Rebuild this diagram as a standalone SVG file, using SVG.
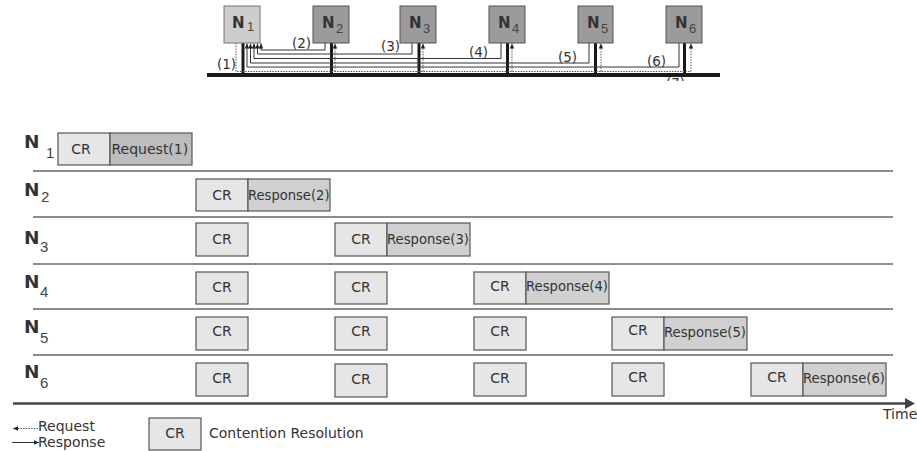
<svg xmlns="http://www.w3.org/2000/svg" width="917" height="451" viewBox="0 0 917 451">
<style>
.nt{font-family:"DejaVu Sans",sans-serif;font-weight:bold;fill:#333}
.sub{font-family:"Liberation Sans",Arial,sans-serif;fill:#444}
.t{font-family:"DejaVu Sans",sans-serif;font-size:14px;fill:#333}
.lbl{font-family:"DejaVu Sans",sans-serif;font-size:13.5px;fill:#333}
.cr{fill:#e6e6e6;stroke:#555;stroke-width:1.2}
.rs{fill:#d0d0d0;stroke:#555;stroke-width:1.2}
.rq{fill:#bdbdbd;stroke:#555;stroke-width:1.2}
.row{stroke:#666;stroke-width:1.5}
.stub{stroke:#1a1a1a;stroke-width:3}
.resp{fill:none;stroke:#333;stroke-width:1}
.req{fill:none;stroke:#555;stroke-width:1;stroke-dasharray:1.5 1.2}
</style>
<defs>
<marker id="ah" markerUnits="userSpaceOnUse" markerWidth="6" markerHeight="6" refX="5" refY="3" orient="auto">
<path d="M0,0.8 L5,3 L0,5.2 Z" fill="#222"/>
</marker>
<clipPath id="c7"><rect x="660" y="76" width="30" height="5"/></clipPath>
</defs>

<g id="connectors">
<line x1="207" y1="75" x2="720" y2="75" stroke="#1a1a1a" stroke-width="4"/>
<line class="stub" x1="243" y1="43" x2="243" y2="75"/>
<line class="stub" x1="331.5" y1="43" x2="331.5" y2="75"/>
<line class="stub" x1="419" y1="43" x2="419" y2="75"/>
<line class="stub" x1="507.5" y1="43" x2="507.5" y2="75"/>
<line class="stub" x1="595.5" y1="43" x2="595.5" y2="75"/>
<line class="stub" x1="684.5" y1="43" x2="684.5" y2="75"/>
<path class="resp" d="M325,43 V50 H261 V43.5" marker-end="url(#ah)"/>
<path class="resp" d="M412,43 V54 H257.5 V43.5" marker-end="url(#ah)"/>
<path class="resp" d="M501,43 V58.5 H254 V43.5" marker-end="url(#ah)"/>
<path class="resp" d="M589,43 V63 H250.5 V43.5" marker-end="url(#ah)"/>
<path class="resp" d="M679,43 V67 H247 V43.5" marker-end="url(#ah)"/>
<path class="req" d="M236,43 V71.5 H691"/>
<path class="req" d="M335,71.5 V43.5" marker-end="url(#ah)"/>
<path class="req" d="M423,71.5 V43.5" marker-end="url(#ah)"/>
<path class="req" d="M512,71.5 V43.5" marker-end="url(#ah)"/>
<path class="req" d="M601,71.5 V43.5" marker-end="url(#ah)"/>
<path class="req" d="M691,71.5 V43.5" marker-end="url(#ah)"/>
<text class="lbl" x="217" y="69">(1)</text>
<text class="lbl" x="292" y="48">(2)</text>
<text class="lbl" x="381" y="51">(3)</text>
<text class="lbl" x="469" y="57">(4)</text>
<text class="lbl" x="558" y="62">(5)</text>
<text class="lbl" x="647" y="66">(6)</text>
<text class="lbl" x="666" y="88" clip-path="url(#c7)">(7)</text>
</g>

<g id="node-N1">
<rect x="224" y="6" width="36" height="37" fill="#cdcdcd" stroke="#777"/>
<text class="nt" x="232" y="27.5" font-size="15">N</text><text class="sub" x="247" y="31" font-size="13">1</text>
</g>
<g id="node-N2">
<rect x="313" y="6" width="36" height="37" fill="#9b9b9b" stroke="#555"/>
<text class="nt" x="322" y="27.5" font-size="15">N</text><text class="sub" x="336" y="33" font-size="13">2</text>
</g>
<g id="node-N3">
<rect x="400" y="6" width="36" height="37" fill="#9b9b9b" stroke="#555"/>
<text class="nt" x="409" y="27.5" font-size="15">N</text><text class="sub" x="423" y="33" font-size="13">3</text>
</g>
<g id="node-N4">
<rect x="489" y="6" width="36" height="37" fill="#9b9b9b" stroke="#555"/>
<text class="nt" x="498" y="27.5" font-size="15">N</text><text class="sub" x="512" y="33" font-size="13">4</text>
</g>
<g id="node-N5">
<rect x="578" y="6" width="35" height="37" fill="#9b9b9b" stroke="#555"/>
<text class="nt" x="587" y="27.5" font-size="15">N</text><text class="sub" x="601" y="33" font-size="13">5</text>
</g>
<g id="node-N6">
<rect x="666" y="6" width="36" height="37" fill="#9b9b9b" stroke="#555"/>
<text class="nt" x="675" y="27.5" font-size="15">N</text><text class="sub" x="689" y="33" font-size="13">6</text>
</g>

<g id="timeline">
<line class="row" x1="33" y1="171" x2="893" y2="171"/>
<line class="row" x1="33" y1="217" x2="893" y2="217"/>
<line class="row" x1="33" y1="264" x2="893" y2="264"/>
<line class="row" x1="33" y1="309" x2="893" y2="309"/>
<line class="row" x1="33" y1="355" x2="893" y2="355"/>
<line x1="13" y1="403.5" x2="907" y2="403.5" stroke="#444" stroke-width="2.5"/>
<path d="M905,398 L915,403.5 L905,409 Z" fill="#444"/>
<text class="t" x="883" y="419">Time</text>

<text class="nt" x="24" y="148" font-size="18.5">N</text><text class="sub" x="46" y="158" font-size="15">1</text>
<text class="nt" x="24" y="196" font-size="18.5">N</text><text class="sub" x="41" y="202" font-size="15">2</text>
<text class="nt" x="24" y="244" font-size="18.5">N</text><text class="sub" x="40" y="252" font-size="15">3</text>
<text class="nt" x="24" y="288" font-size="18.5">N</text><text class="sub" x="40" y="297" font-size="15">4</text>
<text class="nt" x="24" y="333" font-size="18.5">N</text><text class="sub" x="40" y="343" font-size="15">5</text>
<text class="nt" x="24" y="378" font-size="18.5">N</text><text class="sub" x="40" y="388" font-size="15">6</text>
</g>

<g id="row1">
<rect class="cr" x="58" y="133" width="52" height="32"/><text class="t" x="81" y="154" text-anchor="middle">CR</text>
<rect class="rq" x="110" y="133" width="82" height="32"/><text class="t" x="111.5" y="154">Request(1)</text>
</g>
<g id="row2">
<rect class="cr" x="196" y="179" width="52" height="32"/><text class="t" x="222" y="200" text-anchor="middle">CR</text>
<rect class="rs" x="248" y="179" width="82" height="32"/><text class="t" x="248" y="200" textLength="81.5" lengthAdjust="spacingAndGlyphs">Response(2)</text>
</g>
<g id="row3">
<rect class="cr" x="196" y="223" width="52" height="33"/><text class="t" x="222" y="244" text-anchor="middle">CR</text>
<rect class="cr" x="335" y="223" width="52" height="33"/><text class="t" x="361" y="244" text-anchor="middle">CR</text>
<rect class="rs" x="387" y="223" width="83" height="33"/><text class="t" x="387" y="244" textLength="82" lengthAdjust="spacingAndGlyphs">Response(3)</text>
</g>
<g id="row4">
<rect class="cr" x="196" y="272" width="52" height="32"/><text class="t" x="222" y="292" text-anchor="middle">CR</text>
<rect class="cr" x="335" y="272" width="52" height="32"/><text class="t" x="361" y="292" text-anchor="middle">CR</text>
<rect class="cr" x="474" y="272" width="52" height="32"/><text class="t" x="500" y="291" text-anchor="middle">CR</text>
<rect class="rs" x="526" y="272" width="83" height="32"/><text class="t" x="526" y="291" textLength="82" lengthAdjust="spacingAndGlyphs">Response(4)</text>
</g>
<g id="row5">
<rect class="cr" x="196" y="317" width="52" height="33"/><text class="t" x="222" y="336" text-anchor="middle">CR</text>
<rect class="cr" x="335" y="317" width="52" height="33"/><text class="t" x="361" y="336" text-anchor="middle">CR</text>
<rect class="cr" x="474" y="317" width="52" height="33"/><text class="t" x="500" y="336" text-anchor="middle">CR</text>
<rect class="cr" x="612" y="317" width="52" height="33"/><text class="t" x="638" y="335" text-anchor="middle">CR</text>
<rect class="rs" x="664" y="317" width="83" height="33"/><text class="t" x="664" y="337" textLength="82" lengthAdjust="spacingAndGlyphs">Response(5)</text>
</g>
<g id="row6">
<rect class="cr" x="196" y="363" width="52" height="33"/><text class="t" x="222" y="383" text-anchor="middle">CR</text>
<rect class="cr" x="335" y="364" width="52" height="33"/><text class="t" x="361" y="384" text-anchor="middle">CR</text>
<rect class="cr" x="474" y="363" width="52" height="33"/><text class="t" x="500" y="383" text-anchor="middle">CR</text>
<rect class="cr" x="612" y="363" width="52" height="33"/><text class="t" x="638" y="382" text-anchor="middle">CR</text>
<rect class="cr" x="751" y="363" width="52" height="33"/><text class="t" x="777" y="382" text-anchor="middle">CR</text>
<rect class="rs" x="803" y="363" width="83" height="33"/><text class="t" x="803" y="383" textLength="82" lengthAdjust="spacingAndGlyphs">Response(6)</text>
</g>

<g id="legend">
<path class="req" d="M38,428.5 H13" marker-end="url(#ah)"/>
<text class="t" x="38" y="431" font-size="13">Request</text>
<path class="resp" d="M12,442.5 H39" stroke="#444" marker-end="url(#ah)"/>
<text class="t" x="38" y="446.5" font-size="13">Response</text>
<rect class="cr" x="149" y="418" width="52" height="32"/><text class="t" x="175" y="438" text-anchor="middle">CR</text>
<text class="t" x="209" y="438">Contention Resolution</text>
</g>
</svg>
